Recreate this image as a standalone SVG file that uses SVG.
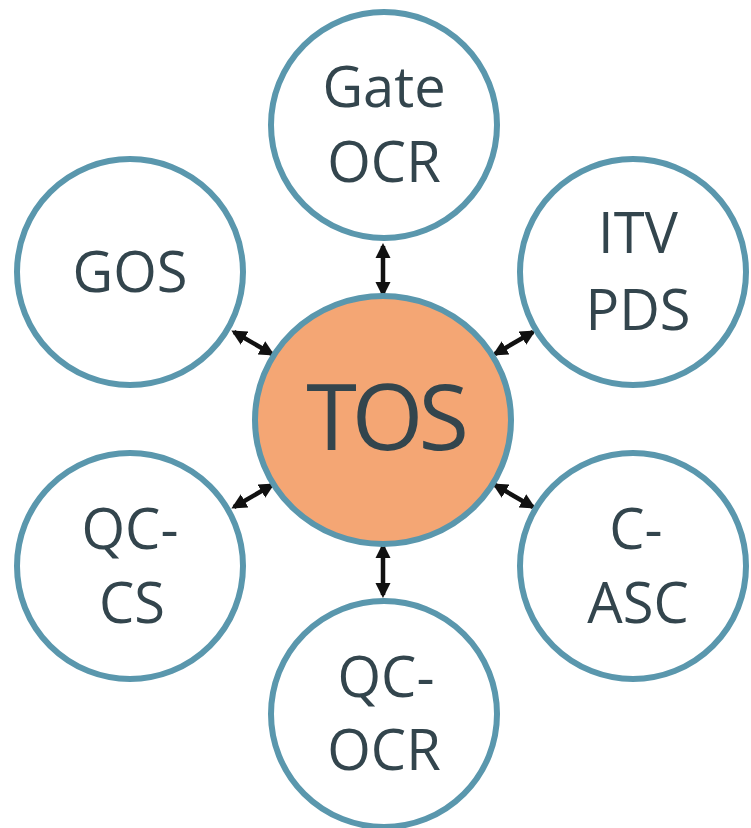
<svg xmlns="http://www.w3.org/2000/svg" width="751" height="828" viewBox="0 0 751 828">
<style>
.node{fill:#ffffff;stroke:#5a97ad;stroke-width:6}
.hub{fill:#f4a674;stroke:#5a97ad;stroke-width:6}
.lbl{font-family:"Open Sans","Noto Sans",sans-serif;font-size:56px;fill:#33454d;text-anchor:middle}
.big{font-size:92px;letter-spacing:-5px}
.conn{stroke:#111111;stroke-width:4.5;fill:none;marker-start:url(#ah);marker-end:url(#ah)}
</style>
<defs>
<marker id="ah" viewBox="0 0 10 10" refX="8" refY="5" markerWidth="3.4" markerHeight="3.4" orient="auto-start-reverse" markerUnits="strokeWidth">
<path d="M0,0 L10,5 L0,10 Z" fill="#111111"/>
</marker>
</defs>
<rect width="751" height="828" fill="#ffffff"/>
<g id="connectors">
<line class="conn" x1="383" y1="246" x2="383" y2="294"/>
<line class="conn" x1="383" y1="546" x2="383" y2="595"/>
<line class="conn" x1="234" y1="332" x2="272" y2="354"/>
<line class="conn" x1="533" y1="332" x2="495" y2="354"/>
<line class="conn" x1="234" y1="507" x2="272" y2="485"/>
<line class="conn" x1="533" y1="507" x2="495" y2="485"/>
</g>
<g id="tos">
<ellipse class="hub" cx="383" cy="420" rx="128" ry="124"/>
<text class="lbl big" x="385" y="450">TOS</text>
</g>
<g id="gate-ocr">
<circle class="node" cx="384" cy="125" r="113"/>
<text class="lbl" x="384" y="107">Gate</text>
<text class="lbl" x="384" y="182">OCR</text>
</g>
<g id="gos">
<circle class="node" cx="130" cy="272" r="113"/>
<text class="lbl" x="130" y="292">GOS</text>
</g>
<g id="itv-pds">
<circle class="node" cx="633" cy="272" r="113"/>
<text class="lbl" x="638" y="253">ITV</text>
<text class="lbl" x="638" y="330">PDS</text>
</g>
<g id="qc-cs">
<circle class="node" cx="130" cy="566" r="113"/>
<text class="lbl" x="130" y="549">QC-</text>
<text class="lbl" x="132" y="623">CS</text>
</g>
<g id="c-asc">
<circle class="node" cx="633" cy="566" r="113"/>
<text class="lbl" x="636" y="549">C-</text>
<text class="lbl" x="638" y="623">ASC</text>
</g>
<g id="qc-ocr">
<circle class="node" cx="384" cy="714" r="113"/>
<text class="lbl" x="386" y="697">QC-</text>
<text class="lbl" x="384" y="770">OCR</text>
</g>
</svg>
